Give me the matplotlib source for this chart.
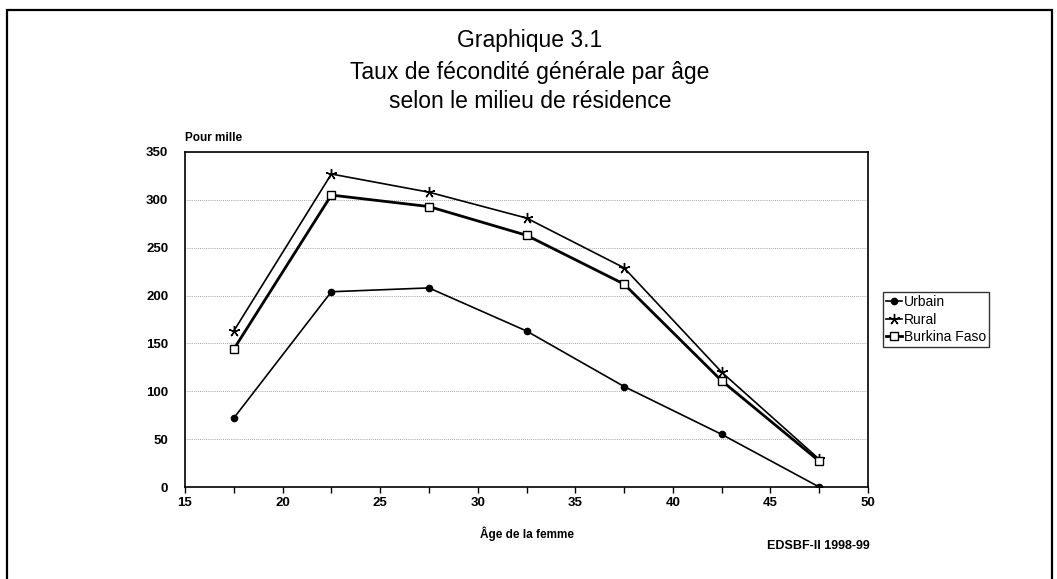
import matplotlib.pyplot as plt
from matplotlib.patches import Rectangle

# Age groups (mid points) and rates per thousand
ages = [17.5, 22.5, 27.5, 32.5, 37.5, 42.5, 47.5]
urbain = [72, 204, 208, 163, 105, 55, 0]
rural = [163, 327, 308, 281, 229, 120, 29]
burkina = [144, 305, 293, 263, 212, 111, 27]

plt.rcParams['font.family'] = ['Liberation Sans', 'DejaVu Sans']

fig = plt.figure(figsize=(10.57, 5.79), dpi=100)
W, H = 1057, 579

# outer frame of the page
fig.patches.append(Rectangle((7 / W, -0.05), 1045 / W, 1 - 10 / H + 0.05,
                             transform=fig.transFigure, fill=False,
                             edgecolor='black', linewidth=1.6))

ax = fig.add_axes([185 / W, 1 - 487 / H, (868 - 185) / W, (487 - 152) / H])

ax.plot(ages, urbain, color='black', lw=1.2, marker='o', ms=4.5,
        mfc='black', mec='black', label='Urbain')
ax.plot(ages, rural, color='black', lw=1.2, marker=(5, 2, 0), ms=8,
        mec='black', mew=1.0, label='Rural')
ax.plot(ages, burkina, color='black', lw=2.0, marker='s', ms=6,
        mfc='white', mec='black', mew=1.0, label='Burkina Faso')

ax.set_xlim(15, 50)
ax.set_ylim(0, 350)
ax.set_xticks(range(15, 51, 5))
ax.set_xticks([17.5, 22.5, 27.5, 32.5, 37.5, 42.5, 47.5], minor=True)
ax.set_yticks(range(0, 351, 50))
ax.tick_params(axis='both', labelsize=9.5, width=1, length=4, direction='out')
ax.tick_params(axis='x', which='minor', length=4, width=1)
ax.tick_params(axis='y', length=0, pad=12)
for lab in ax.get_xticklabels() + ax.get_yticklabels():
    lab.set_fontweight('bold')

ax.grid(axis='y', color='#888888', linestyle=(0, (1, 1.5)), linewidth=0.6)
ax.set_axisbelow(True)
for sp in ax.spines.values():
    sp.set_linewidth(1.2)

ax.text(0.0, 1.025, 'Pour mille', transform=ax.transAxes, fontsize=8.5,
        fontweight='bold', ha='left', va='bottom')
ax.set_xlabel('Âge de la femme', fontsize=8.5, fontweight='bold', labelpad=12)

fig.text(530 / W, 1 - 40 / H, 'Graphique 3.1', ha='center', va='center', fontsize=16.5)
fig.text(530 / W, 1 - 72 / H, 'Taux de fécondité générale par âge',
         ha='center', va='center', fontsize=16.5)
fig.text(530 / W, 1 - 102 / H, 'selon le milieu de résidence',
         ha='center', va='center', fontsize=16.5)
fig.text(818 / W, 1 - 546 / H, 'EDSBF-II 1998-99', ha='center', va='center',
         fontsize=9, fontweight='bold')

leg = ax.legend(loc='center left', bbox_to_anchor=(1.022, 0.5), frameon=True,
                fancybox=False, edgecolor='black', fontsize=10,
                handlelength=1.1, handletextpad=0.15, borderpad=0.25,
                labelspacing=0.25, borderaxespad=0)
leg.get_frame().set_linewidth(1.0)

fig.savefig('out.png', dpi=100)
